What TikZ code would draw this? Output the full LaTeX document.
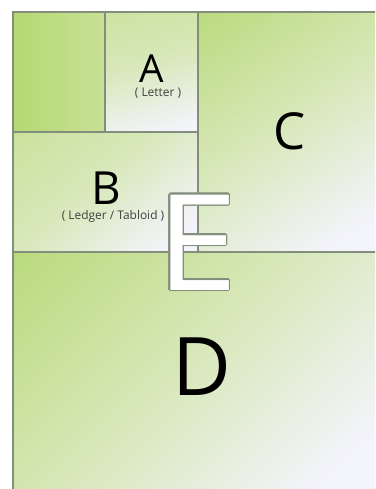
\documentclass[tikz,border=0pt]{standalone}
\usepackage{fontspec}
\usepackage{contour}
\newfontfamily\labelfont{Open Sans}
\usetikzlibrary{positioning}

\definecolor{leafgreen}{RGB}{174,212,98}
\definecolor{softgreen}{RGB}{200,225,150}
\definecolor{palelilac}{RGB}{244,244,252}
\definecolor{edgegray}{RGB}{132,142,124}
\contourlength{0.7pt}

% smooth fades, green at the top end
\pgfdeclareverticalshading{fadestrong}{100bp}{color(0bp)=(palelilac); color(22bp)=(palelilac); color(55bp)=(softgreen!70!palelilac); color(100bp)=(leafgreen)}
\pgfdeclareverticalshading{fadesoft}{100bp}{color(0bp)=(palelilac); color(22bp)=(palelilac); color(55bp)=(softgreen!65!palelilac); color(100bp)=(softgreen!85!leafgreen)}

\tikzset{
  panel/.style={draw=edgegray, line width=0.6pt},
  sheetname/.style={anchor=base, inner sep=0pt, text=black, font=\labelfont#1},
  sheetsize/.style={anchor=north, inner sep=0pt, text=black!75, font=\labelfont\fontsize{6.8}{7}\selectfont}
}

\begin{document}
\begin{tikzpicture}[x=0.02cm, y=-0.02cm]
\useasboundingbox (0,0) rectangle (375,489);
\begin{scope}
\clip (0,0) rectangle (375,489);
% Sheets, top-left green fading to pale lilac
\shade[left color=leafgreen!70!softgreen, right color=softgreen] (13,12) rectangle (105,132);
\shade[shading=fadesoft, shading angle=15] (105,12) rectangle (198,132);
\shade[shading=fadesoft, shading angle=40] (13,132) rectangle (198,252);
\shade[shading=fadestrong, shading angle=35] (198,12) rectangle (380,252);
\shade[shading=fadestrong, shading angle=45] (13,252) rectangle (380,495);
% Cutting lines
\draw[panel] (13,495) -- (13,12) -- (380,12);
\draw[panel] (105,12) -- (105,132);
\draw[panel] (13,132) -- (198,132);
\draw[panel] (198,12) -- (198,252);
\draw[panel] (13,252) -- (380,252);
\end{scope}

% Labels
\node[sheetname={\fontsize{22}{22}\selectfont}] (lblA) at (152,83) {A};
\node[sheetsize] (sizeA) at (158,88) {( Letter )};
\node[sheetname={\fontsize{26}{26}\selectfont}] (lblB) at (106,205) {B};
\node[sheetsize] (sizeB) at (113,210) {( Ledger / Tabloid )};
\node[sheetname={\fontsize{29}{29}\selectfont}] (lblC) at (290,150) {C};
\node[sheetname={\fontsize{46}{46}\selectfont}] (lblD) at (202,395) {D};

% Overlay letter
\node[anchor=base, inner sep=0pt, inner xsep=-6pt, xscale=1.1, font=\labelfont\fontsize{76}{76}\selectfont] (lblE) at (197,290) {\contour{edgegray}{\textcolor{white}{E}}};
\end{tikzpicture}
\end{document}
